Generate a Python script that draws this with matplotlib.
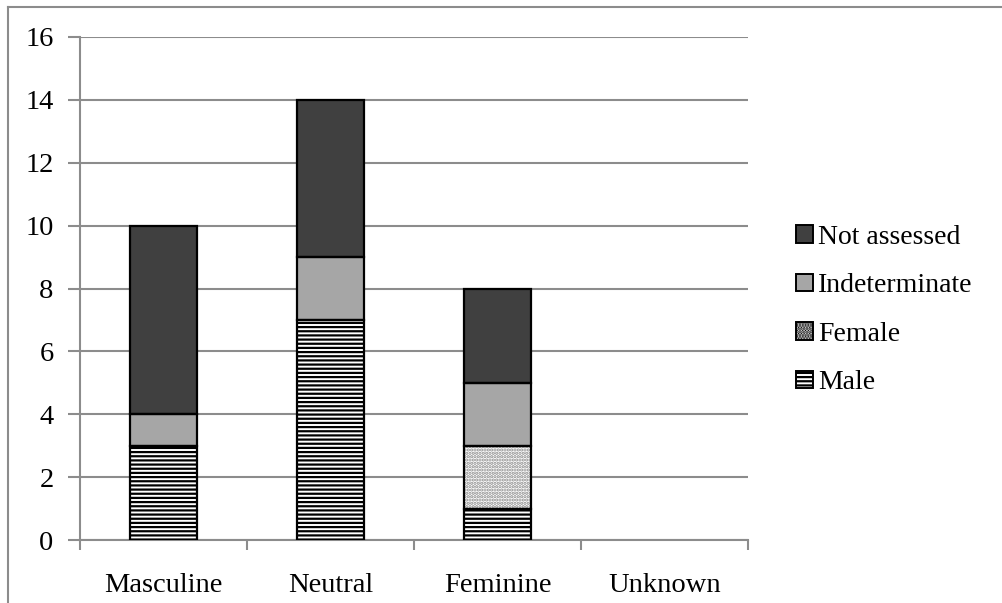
import numpy as np
import matplotlib.pyplot as plt
from matplotlib.patches import Patch
from matplotlib.lines import Line2D

plt.rcParams['font.family'] = ['Liberation Serif', 'DejaVu Serif']
plt.rcParams['hatch.linewidth'] = 1.6

categories = ['Masculine', 'Neutral', 'Feminine', 'Unknown']
male = [3, 7, 1, 0]
female = [0, 0, 2, 0]
indeterminate = [1, 2, 2, 0]
not_assessed = [6, 5, 3, 0]

fig = plt.figure(figsize=(10.03, 6.03), dpi=100)
ax = fig.add_axes([80 / 1003, 1 - 540 / 603, 668 / 1003, 503 / 603])

x = np.arange(len(categories))
w = 0.4
grid_c = '#8c8c8c'

male_b = np.zeros(4)
fem_b = male_b + male
ind_b = fem_b + female
na_b = ind_b + indeterminate

ax.bar(x, male, w, bottom=male_b, color='white', edgecolor='black', hatch='----', lw=0, zorder=3)
ax.bar(x, female, w, bottom=fem_b, color='white', edgecolor='#8a8a8a', hatch='.....', lw=0, zorder=3)
ax.bar(x, indeterminate, w, bottom=ind_b, color='#a6a6a6', lw=0, zorder=3)
ax.bar(x, not_assessed, w, bottom=na_b, color='#404040', lw=0, zorder=3)
for vals, bot in [(male, male_b), (female, fem_b), (indeterminate, ind_b), (not_assessed, na_b)]:
    v = np.array(vals)
    m = v > 0
    ax.bar(x[m], v[m], w, bottom=bot[m], color='none', edgecolor='black', lw=1.6, zorder=4)

ax.set_xlim(-0.5, 3.5)
ax.set_ylim(0, 16)
ax.set_yticks(range(0, 17, 2))
ax.set_xticks(x)
ax.set_xticklabels(categories)
ax.set_xticks(np.arange(-0.5, 4, 1), minor=True)
ax.tick_params(axis='x', which='major', length=0, pad=24, labelsize=20.5)
ax.tick_params(axis='x', which='minor', length=7, width=1.5, color=grid_c)
ax.tick_params(axis='y', length=9, width=1.5, color=grid_c, pad=10, labelsize=20.5)
ax.yaxis.grid(True, color=grid_c, lw=1.5, zorder=0)
ax.set_axisbelow(True)
for s in ['top', 'right']:
    ax.spines[s].set_visible(False)
for s in ['left', 'bottom']:
    ax.spines[s].set_color(grid_c)
    ax.spines[s].set_linewidth(1.5)

handles = [
    Patch(facecolor='#404040', edgecolor='black', lw=1.4),
    Patch(facecolor='#a6a6a6', edgecolor='black', lw=1.4),
    Patch(facecolor='white', edgecolor='black', hatch='......', lw=1.4),
    Patch(facecolor='white', edgecolor='black', hatch='----', lw=1.4),
]
labels = ['Not assessed', 'Indeterminate', 'Female', 'Male']
fig.legend(handles, labels, loc='center left', bbox_to_anchor=(782 / 1003, 1 - 310 / 603),
           frameon=False, fontsize=20, handlelength=0.6, handleheight=0.6,
           handletextpad=0.2, labelspacing=0.85, borderpad=0)

# outer frame (top and left edges visible)
fig.add_artist(Line2D([8 / 1003, 8 / 1003], [0, 1 - 7 / 603], transform=fig.transFigure, color=grid_c, lw=1.5))
fig.add_artist(Line2D([8 / 1003, 1], [1 - 7 / 603, 1 - 7 / 603], transform=fig.transFigure, color=grid_c, lw=1.5))

fig.savefig('out.png', dpi=100)
